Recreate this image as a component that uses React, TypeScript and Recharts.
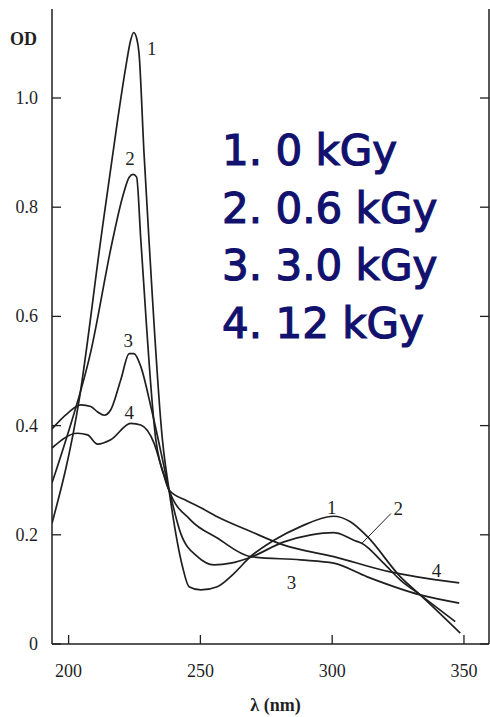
import { LineChart, Line, XAxis, YAxis, ReferenceDot, ReferenceLine } from 'recharts'

// wavelength (nm) and optical density
const wl1 = [193.7, 204, 212.2, 218.6, 221.7, 223.5, 224.7, 225.8, 226.7, 228.6, 230.5, 235.6, 238.1, 243.2, 245.7, 250.1, 256.4, 262.7, 269, 277.9, 288, 300.5, 306.9, 313.3, 325.9, 333.4, 348.6]
const od1 = [0.221, 0.447, 0.74, 0.96, 1.057, 1.105, 1.12, 1.11, 1.083, 0.9, 0.74, 0.374, 0.282, 0.142, 0.105, 0.099, 0.105, 0.129, 0.16, 0.19, 0.215, 0.234, 0.224, 0.197, 0.123, 0.09, 0.02]

const wl2 = [193.7, 199, 208.4, 216.7, 220.5, 223, 224.5, 225.8, 227.4, 233.1, 238.1, 242.5, 248.9, 255.2, 261.5, 269.1, 281.7, 292, 300.5, 302, 308.2, 311.4, 319.5, 325.9, 333.4, 346.7]
const od2 = [0.295, 0.374, 0.535, 0.74, 0.819, 0.855, 0.86, 0.855, 0.74, 0.374, 0.282, 0.203, 0.16, 0.145, 0.148, 0.159, 0.187, 0.2, 0.204, 0.203, 0.19, 0.184, 0.148, 0.117, 0.09, 0.041]

const wl3 = [193.7, 199.6, 204.7, 208.4, 211, 213.5, 216, 219.8, 223, 224.8, 227.4, 231.2, 236.2, 238.1, 246.3, 256.4, 269.1, 288, 300.6, 313.3, 333.4, 348.2]
const od3 = [0.394, 0.4225, 0.438, 0.435, 0.425, 0.419, 0.429, 0.484, 0.532, 0.532, 0.508, 0.435, 0.325, 0.282, 0.227, 0.194, 0.16, 0.154, 0.148, 0.123, 0.09, 0.075]

const wl4 = [193.7, 203.4, 207.2, 211, 216, 223.6, 227.4, 232.4, 235.5, 238.1, 245, 250, 256.4, 269.1, 281.7, 300.6, 322, 332.2, 348.2]
const od4 = [0.359, 0.386, 0.383, 0.366, 0.374, 0.404, 0.401, 0.368, 0.32, 0.282, 0.262, 0.25, 0.233, 0.206, 0.181, 0.16, 0.132, 0.123, 0.112]

const xTicks = [200, 250, 300, 350]
const yTicks = [0, 0.2, 0.4, 0.6, 0.8, 1.0]
const doses = ['1. 0 kGy', '2. 0.6 kGy', '3. 3.0 kGy', '4. 12 kGy']

// curve numbers written next to the lines
const tagText = ['1', '2', '3', '4', '1', '2', '3', '4']
const tagNm = [231.5, 223.3, 222.6, 223, 299.8, 325.1, 284.6, 339.6]
const tagOd = [1.092, 0.889, 0.556, 0.424, 0.251, 0.2485, 0.114, 0.1355]

const ink = '#1f1f1f'
const serif = 'Liberation Serif, DejaVu Serif, serif'
const serifStyle = { fontFamily: serif }

const toPoints = (wl: number[], od: number[]) => wl.map((x, i) => ({ x, od: od[i] }))
const curves = [toPoints(wl1, od1), toPoints(wl2, od2), toPoints(wl3, od3), toPoints(wl4, od4)]

const TICK = 9

const BottomTick = ({ x, y, payload }: any) => (
  <g>
    <line x1={x} x2={x} y1={y} y2={y - TICK} stroke={ink} strokeWidth={1.3} />
    <text x={x} y={y + 33} textAnchor="middle" style={serifStyle} fontSize={18} fill={ink}>
      {payload.value}
    </text>
  </g>
)

const TopTick = ({ x, y }: any) => (
  <line x1={x} x2={x} y1={y} y2={y + TICK} stroke={ink} strokeWidth={1.3} />
)

const LeftTick = ({ x, y, payload }: any) => (
  <g>
    <line x1={x} x2={x + TICK} y1={y} y2={y} stroke={ink} strokeWidth={1.3} />
    <text x={x - 14} y={y + 6} textAnchor="end" style={serifStyle} fontSize={18} fill={ink}>
      {payload.value === 0 ? '0' : payload.value.toFixed(1)}
    </text>
  </g>
)

const RightTick = ({ x, y }: any) => (
  <line x1={x} x2={x - TICK} y1={y} y2={y} stroke={ink} strokeWidth={1.3} />
)

export default function App() {
  return (
    <div style={{ position: 'fixed', left: 0, top: 0, width: 490, height: 717, background: '#fff' }}>
      <LineChart width={490} height={717} margin={{ top: 9, right: 0, bottom: 0, left: 0 }} style={serifStyle}>
        <XAxis
          xAxisId={0}
          type="number"
          dataKey="x"
          domain={[193.7, 359.5]}
          allowDataOverflow
          ticks={xTicks}
          tick={<BottomTick />}
          tickLine={false}
          tickSize={0}
          tickMargin={0}
          height={73}
          axisLine={{ stroke: ink, strokeWidth: 1.5 }}
          label={{
            value: 'λ (nm)',
            position: 'insideBottom',
            offset: 6,
            dx: 5,
            style: { fontFamily: serif, fontSize: 18, fontWeight: 'bold', fill: ink },
          }}
        />
        <XAxis
          xAxisId="top"
          orientation="top"
          type="number"
          dataKey="x"
          domain={[193.7, 359.5]}
          allowDataOverflow
          ticks={xTicks}
          tick={<TopTick />}
          tickLine={false}
          tickSize={0}
          tickMargin={0}
          height={0}
          axisLine={{ stroke: ink, strokeWidth: 1.5 }}
        />
        <YAxis
          yAxisId={0}
          type="number"
          domain={[0, 1.163]}
          allowDataOverflow
          ticks={yTicks}
          tick={<LeftTick />}
          tickLine={false}
          tickSize={0}
          tickMargin={0}
          width={52}
          axisLine={{ stroke: ink, strokeWidth: 1.5 }}
          label={{
            value: 'OD',
            position: 'insideTopLeft',
            offset: 10,
            dy: 13,
            style: { fontFamily: serif, fontSize: 18, fontWeight: 'bold', fill: ink },
          }}
        />
        <YAxis
          yAxisId="right"
          orientation="right"
          type="number"
          domain={[0, 1.163]}
          allowDataOverflow
          ticks={yTicks}
          tick={<RightTick />}
          tickLine={false}
          tickSize={0}
          tickMargin={0}
          width={1}
          axisLine={{ stroke: ink, strokeWidth: 1.5 }}
        />
        {curves.map((pts, i) => (
          <Line
            key={i}
            data={pts}
            dataKey="od"
            type="monotone"
            stroke={ink}
            strokeWidth={1.7}
            dot={false}
            activeDot={false}
            isAnimationActive={false}
          />
        ))}
        <ReferenceLine
          segment={[
            { x: 311.2, y: 0.184 },
            { x: 322.3, y: 0.239 },
          ]}
          stroke={ink}
          strokeWidth={1}
        />
        {tagText.map((t, i) => (
          <ReferenceDot
            key={'tag' + i}
            x={tagNm[i]}
            y={tagOd[i]}
            r={0}
            stroke="none"
            fill="none"
            label={{
              value: t,
              position: 'center',
              style: { fontFamily: serif, fontSize: 19, fill: ink },
            }}
          />
        ))}
      </LineChart>
      <div
        style={{
          position: 'absolute',
          left: 222,
          top: 122,
          fontFamily: 'DejaVu Sans, sans-serif',
          fontSize: 42,
          lineHeight: '57.5px',
          color: '#12126e',
          WebkitTextStroke: '1.2px #12126e',
          whiteSpace: 'pre',
        }}
      >
        {doses.map((d) => (
          <div key={d}>{d}</div>
        ))}
      </div>
    </div>
  )
}
